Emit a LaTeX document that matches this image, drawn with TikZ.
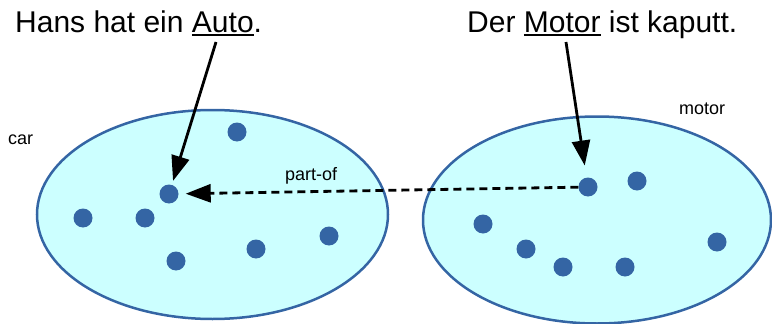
\documentclass[tikz,border=0pt]{standalone}
\usepackage{fontspec}
\setmainfont{Liberation Sans}
\usetikzlibrary{arrows.meta,shapes.geometric}
\definecolor{SetFill}{HTML}{CCFFFF}
\definecolor{SetLine}{HTML}{3465A4}
\newcommand\wordline[1]{\setbox0\hbox{#1}\rlap{\rule[-3.5pt]{\wd0}{1.5pt}}#1}
\tikzset{
  setshape/.style={ellipse,draw=SetLine,fill=SetFill,line width=2.5pt,inner sep=0pt},
  elem/.style={circle,fill=SetLine,minimum size=19pt,inner sep=0pt},
  pointer/.style={-{Triangle[length=25pt,width=18pt]},line width=2.8pt},
  relation/.style={pointer,dash pattern=on 8pt off 5pt},
  sentence/.style={font=\fontsize{30}{36}\selectfont,inner sep=0pt,anchor=base west},
  setlabel/.style={font=\fontsize{18}{22}\selectfont,inner sep=0pt,anchor=base west},
}
\begin{document}
\begin{tikzpicture}[x=1pt,y=-1pt]
    \useasboundingbox (0,0) rectangle (772,324);
    \node[setshape,minimum width=351pt,minimum height=209pt] (carset) at (212.5,214.5) {};
    \node[setshape,minimum width=348pt,minimum height=207pt] (motorset) at (597,220) {};
    \foreach \n/\p in {1/{(237,132)},2/{(169,194)},3/{(83,218)},4/{(145,218)},
                       5/{(176,261)},6/{(256,249)},7/{(329,236)}}{
      \node[elem] (c\n) at \p {};
    }
    \foreach \n/\p in {1/{(588,187)},2/{(637,181)},3/{(483,224)},4/{(526,249)},
                       5/{(563,267)},6/{(625,267)},7/{(717,242)}}{
      \node[elem] (m\n) at \p {};
    }
    \node[sentence] (carsent) at (15,32) {Hans hat ein \wordline{Auto}.};
    \node[sentence] (motorsent) at (467,32) {Der \wordline{Motor} ist kaputt.};
    \node[setlabel] (carlabel) at (8,144) {car};
    \node[setlabel] (motorlabel) at (679,114) {motor};
    \node[setlabel] (partlabel) at (285,180) {part-of};
    \coordinate (autoword) at (216,42);
    \coordinate (motorword) at (566,42);
    \draw[pointer,shorten >=4pt] (autoword) -- (c2);
    \draw[pointer,shorten >=12pt] (motorword) -- (m1);
    \draw[relation,shorten >=7pt] (m1) -- (c2);
  \end{tikzpicture}
\end{document}
